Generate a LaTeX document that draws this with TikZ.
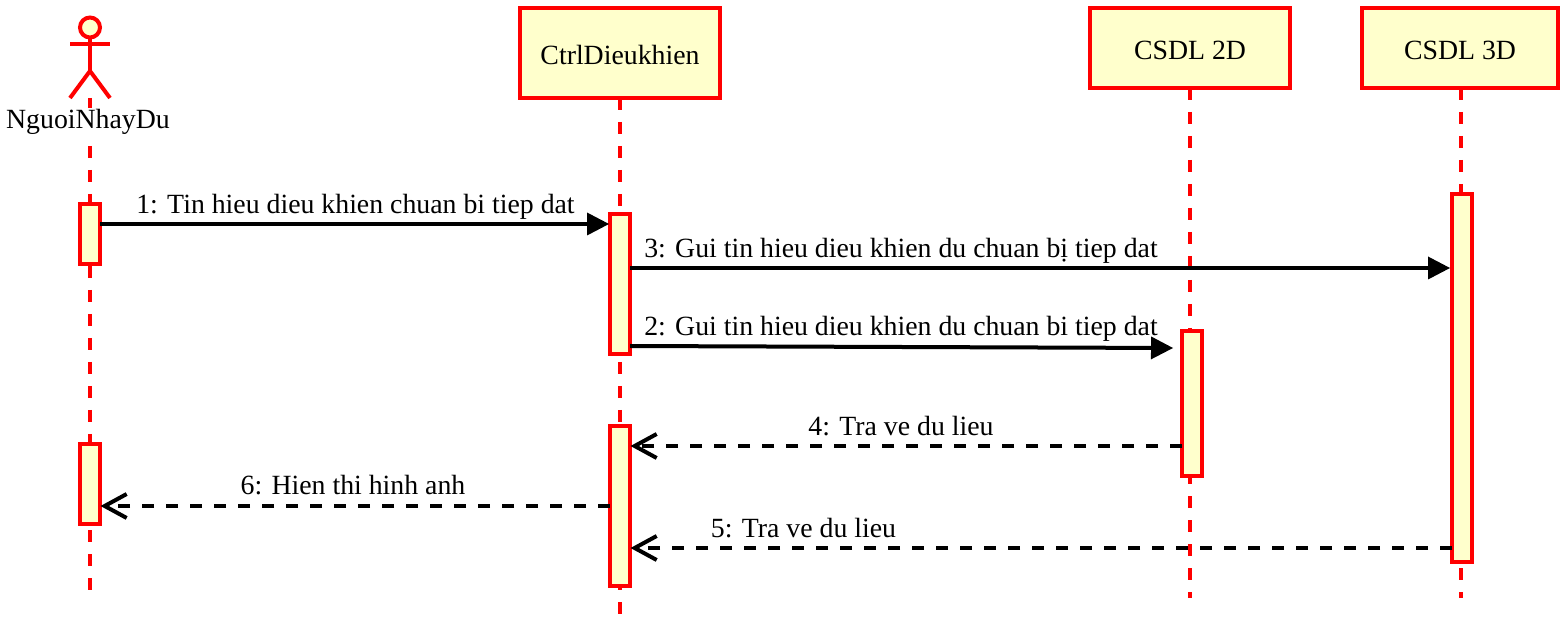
\documentclass[tikz,border=0pt]{standalone}
\usepackage{fontspec}
\setmainfont{Liberation Serif}
\usetikzlibrary{arrows.meta}
\definecolor{drawColor}{RGB}{255,0,0}
\definecolor{fillColor}{RGB}{255,255,204}
\tikzset{
	lifebox/.style={draw=drawColor,fill=fillColor,line width=4pt,inner sep=0pt,outer sep=0pt,text height=24pt,text depth=0pt,font=\fontsize{27.8}{32}\selectfont},
	activebar/.style={draw=drawColor,fill=fillColor,line width=4pt,inner sep=0pt,outer sep=0pt,minimum width=20pt},
	lifeline/.style={draw=drawColor,line width=4pt,dash pattern=on 12pt off 12pt},
	actorline/.style={draw=drawColor,line width=4pt},
	callmsg/.style={draw=black,line width=4pt,-{Triangle[length=22pt,width=23pt,line width=0pt,sep=0pt]}},
	backmsg/.style={draw=black,line width=4pt,dash pattern=on 12pt off 12pt,-{Straight Barb[length=22pt,width=24pt,line width=4pt]}},
	msglabel/.style={inner sep=0pt,outer sep=0pt,anchor=base,font=\fontsize{27.8}{32}\selectfont}
}
\begin{document}
\begin{tikzpicture}[x=1pt,y=1pt]
\path[use as bounding box,fill=white] (0,0) rectangle (1568,624);

% lifeboxes
\node[lifebox,minimum width=200pt,minimum height=90pt] (ctrl) at (620,571) {CtrlDieukhien\hspace{4pt}};
\node[lifebox,minimum width=200pt,minimum height=80pt] (csdl2) at (1190,576) {CSDL 2D\hspace{4pt}};
\node[lifebox,minimum width=196pt,minimum height=80pt] (csdl3) at (1460,576) {CSDL 3D};

% lifeline ends
\coordinate (actorTop) at (90,526);
\coordinate (actorEnd) at (90,34);
\coordinate (ctrlEnd) at (620,10);
\coordinate (csdl2End) at (1190,26);
\coordinate (csdl3End) at (1461,26);

\path[lifeline] (actorTop) -- (actorEnd);
\path[lifeline] (ctrl.south) -- (ctrlEnd);
\path[lifeline] (csdl2.south) -- (csdl2End);
\path[lifeline] (csdl3.south -| csdl3End) -- (csdl3End);

% actor
\node[draw=drawColor,fill=fillColor,line width=4pt,circle,inner sep=0pt,outer sep=0pt,minimum size=20pt] (head) at (90,596.5) {};
\coordinate (hip) at (90,553);
\coordinate (armL) at (70,580);
\coordinate (armR) at (110,580);
\coordinate (footL) at (70,526);
\coordinate (footR) at (110,526);
\path[actorline] (head.south) -- (hip);
\path[actorline] (armL) -- (armR);
\path[actorline] (footL) -- (hip) -- (footR);
\node[fill=white,inner xsep=0pt,inner ysep=2pt,anchor=base,font=\fontsize{27.8}{32}\selectfont] (actorName) at (88,495) {NguoiNhayDu};

% activation bars
\node[activebar,minimum height=60pt] (actorA) at (90,390) {};
\node[activebar,minimum height=80pt] (actorB) at (90,140) {};
\node[activebar,minimum height=140pt] (ctrlA) at (620,340) {};
\node[activebar,minimum height=160pt] (ctrlB) at (620,118) {};
\node[activebar,minimum height=145pt] (dbA) at (1192,220.5) {};
\node[activebar,minimum height=368pt] (dbB) at (1462,246) {};

% messages
\path[callmsg] ([yshift=-20pt]actorA.north east) -- ([xshift=-1pt,yshift=-10pt]ctrlA.north west);
\path[callmsg] ([yshift=-54pt]ctrlA.north east) -- ([xshift=-2pt,yshift=-74pt]dbB.north west);
\path[callmsg] ([yshift=-132pt]ctrlA.north east) -- ([xshift=-9pt,yshift=-17pt]dbA.north west);
\path[backmsg] ([yshift=-115pt]dbA.north west) -- ([xshift=0.5pt,yshift=-20pt]ctrlB.north east);
\path[backmsg] ([yshift=-354pt]dbB.north west) -- ([xshift=0.5pt,yshift=-122pt]ctrlB.north east);
\path[backmsg] ([yshift=-80pt]ctrlB.north west) -- ([xshift=0.5pt,yshift=-62pt]actorB.north east);

% labels
\node[msglabel] (msgOne) at (355.5,410) {1: Tin hieu dieu khien chuan bi tiep dat};
\node[msglabel] (msgThree) at (901,366) {3: Gui tin hieu dieu khien du chuan bị tiep dat};
\node[msglabel] (msgTwo) at (901,288) {2: Gui tin hieu dieu khien du chuan bi tiep dat};
\node[msglabel] (msgFour) at (901,188) {4: Tra ve du lieu};
\node[msglabel] (msgSix) at (353,129) {6: Hien thi hinh anh};
\node[msglabel] (msgFive) at (803.5,87) {5: Tra ve du lieu};
\end{tikzpicture}
\end{document}
